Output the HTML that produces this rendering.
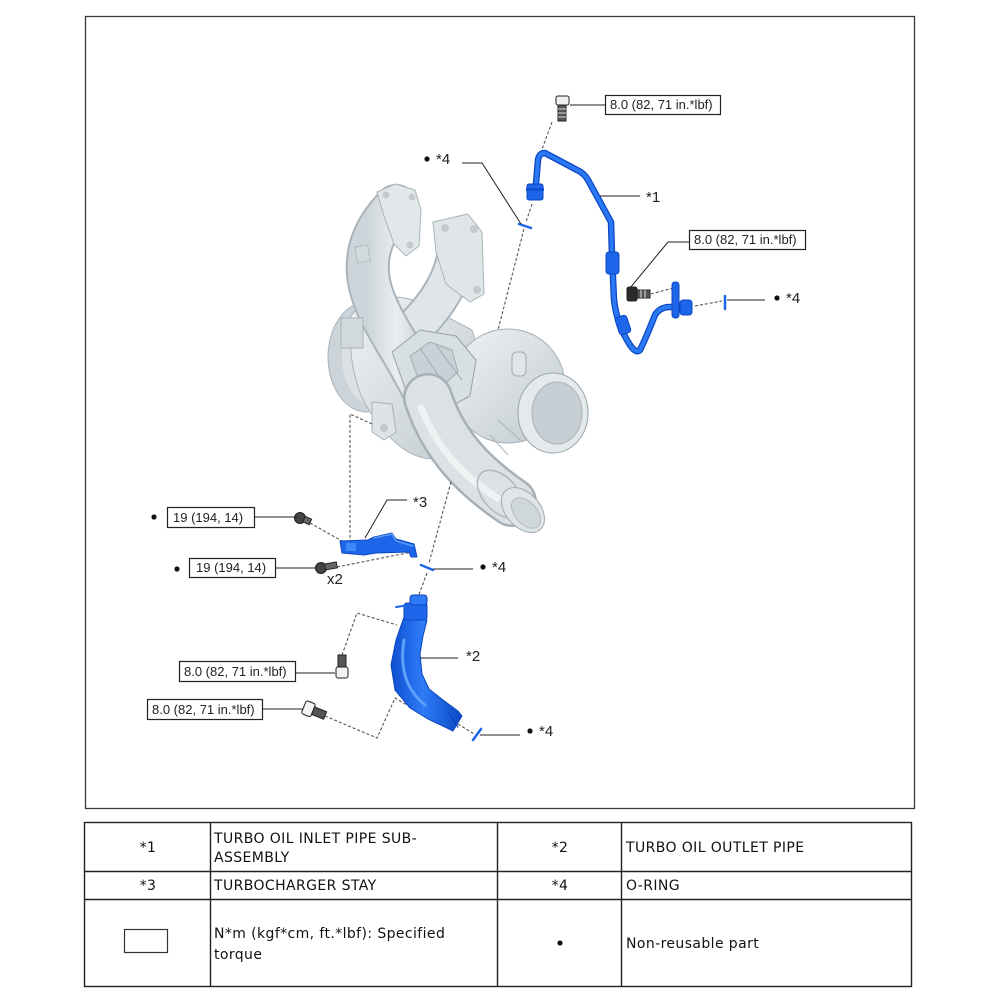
<!DOCTYPE html>
<html><head><meta charset="utf-8"><style>
html,body{margin:0;padding:0;background:#fff;}
svg{display:block;}
.lb{font-family:"Liberation Sans",Arial,sans-serif;font-size:13px;fill:#222;}
.st{font-family:"Liberation Sans",Arial,sans-serif;font-size:15px;fill:#222;}
.tb{font-family:"DejaVu Sans",Verdana,sans-serif;font-size:14px;fill:#111;letter-spacing:0.4px;}
</style></head><body>
<svg width="1002" height="1002" viewBox="0 0 1002 1002" xmlns="http://www.w3.org/2000/svg">
<defs>
<linearGradient id="g1" x1="0" y1="0" x2="1" y2="1"><stop offset="0" stop-color="#eef2f4"/><stop offset="1" stop-color="#c1cacf"/></linearGradient>
<linearGradient id="g2" x1="0" y1="0" x2="1" y2="0"><stop offset="0" stop-color="#cdd5da"/><stop offset="0.5" stop-color="#eaeef0"/><stop offset="1" stop-color="#c6ced3"/></linearGradient>
<linearGradient id="gb" x1="0" y1="0" x2="1" y2="0"><stop offset="0" stop-color="#0e4fd0"/><stop offset="0.45" stop-color="#2f7cf7"/><stop offset="1" stop-color="#0b48c4"/></linearGradient>
</defs>
<rect width="1002" height="1002" fill="#fff"/>
<rect x="85.5" y="16.5" width="829" height="792" fill="none" stroke="#3a3a3a" stroke-width="1.3"/>

<!-- ===== TURBOCHARGER (gray) ===== -->
<g stroke-linejoin="round">
<ellipse cx="367" cy="357" rx="39" ry="55" fill="#ccd4d9" stroke="#aab4ba"/>
<ellipse cx="373" cy="357" rx="31" ry="48" fill="#dbe1e5"/>
<path d="M350,318 C360,298 398,290 422,304 L472,330 C484,362 474,420 452,450 C432,470 400,452 384,430 C364,408 348,380 350,318 Z" fill="url(#g1)" stroke="#aab4ba"/>
<circle cx="508" cy="386" r="57" fill="url(#g1)" stroke="#a6b0b6"/>
<!-- right runner -->
<path d="M458,245 C455,276 440,302 414,328" stroke="#a9b3b9" stroke-width="40" fill="none" stroke-linecap="round"/>
<path d="M458,245 C455,276 440,302 414,328" stroke="#dfe5e8" stroke-width="36" fill="none" stroke-linecap="round"/>
<polygon points="433,222 468,214 482,232 484,294 470,302 446,284 436,252" fill="#e0e5e8" stroke="#a9b3b9"/>
<circle cx="445" cy="228" r="4" fill="#c3cbd0"/><circle cx="474" cy="229" r="4" fill="#c3cbd0"/><circle cx="477" cy="290" r="4" fill="#c3cbd0"/>
<!-- left runner -->
<path d="M396,206 C376,226 362,252 370,286 C378,320 404,350 426,396" stroke="#a9b3b9" stroke-width="44" fill="none" stroke-linecap="round"/>
<path d="M396,206 C376,226 362,252 370,286 C378,320 404,350 426,396" stroke="url(#g2)" stroke-width="40" fill="none" stroke-linecap="round"/>
<polygon points="377,192 395,184 415,190 421,210 419,246 406,256 394,244 384,216" fill="#e2e7ea" stroke="#a9b3b9"/>
<circle cx="386" cy="195" r="3.5" fill="#c3cbd0"/><circle cx="412" cy="197" r="3.5" fill="#c3cbd0"/><circle cx="410" cy="245" r="3.5" fill="#c3cbd0"/>
<rect x="356" y="246" width="13" height="16" fill="#d3dade" stroke="#b3bcc1" transform="rotate(-10 362 254)"/>
<!-- left housing details -->
<rect x="341" y="318" width="22" height="30" fill="#d2d9dd" stroke="#aab4ba"/>
<path d="M372,402 L392,404 L396,432 L384,440 L372,432 Z" fill="#dde3e7" stroke="#a9b3b9"/>
<circle cx="384" cy="428" r="4" fill="#bfc8cd"/>
<!-- actuator -->
<polygon points="392,352 420,330 456,336 476,360 470,396 444,410 408,396" fill="#d8dfe3" stroke="#97a2a8"/>
<polygon points="410,356 430,342 452,350 458,372 440,388 418,378" fill="#c9d1d6" stroke="#a0aab0"/>
<line x1="420" y1="348" x2="448" y2="390" stroke="#a0aab0"/>
<line x1="436" y1="345" x2="462" y2="380" stroke="#a0aab0"/>
<rect x="512" y="352" width="14" height="24" rx="5" fill="#dfe5e8" stroke="#a2acb2"/>
<!-- downpipe -->
<path d="M428,398 C444,446 474,476 512,502" stroke="#a6b0b6" stroke-width="50" fill="none" stroke-linecap="round"/>
<path d="M428,398 C444,446 474,476 512,502" stroke="#dbe1e4" stroke-width="45" fill="none" stroke-linecap="round"/>
<path d="M420,405 C438,452 466,478 500,500" stroke="#eef2f3" stroke-width="7" fill="none"/>
<ellipse cx="500" cy="494" rx="17" ry="28" transform="rotate(-42 500 494)" fill="none" stroke="#aeb8be" stroke-width="1.5"/>
<ellipse cx="523" cy="510" rx="17" ry="26" transform="rotate(-42 523 510)" fill="#dfe5e8" stroke="#a2acb2"/>
<ellipse cx="526" cy="513" rx="11" ry="18" transform="rotate(-42 526 513)" fill="#d0d7db" stroke="#b4bdc2"/>
<!-- outlet -->
<ellipse cx="553" cy="413" rx="35" ry="40" fill="#e4e9eb" stroke="#99a4aa"/>
<ellipse cx="557" cy="413" rx="25" ry="31" fill="#c7cfd4" stroke="#a9b3b9"/>
<path d="M498,420 L520,440 M490,435 L508,455" stroke="#aab4ba" fill="none"/>
</g>

<!-- ===== DASHED LINES ===== -->
<g stroke="#555" stroke-width="1.1" stroke-dasharray="3,2" fill="none">
<path d="M552,122 L541,152"/>
<path d="M532,204 L526,222"/>
<path d="M524,229 L498,330"/>
<path d="M451,482 L429,563"/>
<path d="M427,573 L418,597"/>
<path d="M651,294 L677,287"/>
<path d="M695,306 L722,301"/>
<path d="M372,424 L350,414 L350,550"/>
<path d="M310,523 L342,541"/>
<path d="M337,567 L412,552"/>
<path d="M342,655 L357,613 L397,625"/>
<path d="M325,716 L377,738 L395,698 L407,705"/>
<path d="M458,724 L474,734"/>
</g>

<!-- ===== BLUE PARTS ===== -->
<g stroke-linejoin="round" stroke-linecap="round">
<!-- pipe *1 -->
<path d="M535,195 L538,160 Q539,153 545,153 L577,170 Q584,173 588,180 L611,222 L612,255 L614,300 Q617,325 630,345 Q636,354 640,350 Q646,338 655,315 Q660,307 670,307 L683,307" fill="none" stroke="#0c47c2" stroke-width="6.5"/>
<path d="M535,195 L538,160 Q539,153 545,153 L577,170 Q584,173 588,180 L611,222 L612,255 L614,300 Q617,325 630,345 Q636,354 640,350 Q646,338 655,315 Q660,307 670,307 L683,307" fill="none" stroke="#2b78f5" stroke-width="4"/>
<rect x="527" y="184" width="16" height="16" rx="2" fill="#1d66ea" stroke="#0c47c2"/>
<rect x="526" y="188" width="18" height="3" fill="#0f52d6"/>
<rect x="606" y="252" width="13" height="22" rx="3" fill="#1d66ea" stroke="#0c47c2"/>
<rect x="617" y="316" width="12" height="18" rx="3" fill="#1d66ea" stroke="#0c47c2" transform="rotate(-18 623 325)"/>
<rect x="672" y="282" width="7" height="36" rx="3" fill="#1d66ea" stroke="#0c47c2"/>
<rect x="680" y="300" width="12" height="15" rx="3" fill="#1d66ea" stroke="#0c47c2"/>
<!-- O-rings -->
<line x1="519" y1="224" x2="531" y2="228" stroke="#1d66ea" stroke-width="2.5"/>
<line x1="725" y1="296" x2="725" y2="309" stroke="#1d66ea" stroke-width="2.5"/>
<line x1="421" y1="565" x2="433" y2="570" stroke="#1d66ea" stroke-width="2.5"/>
<line x1="473" y1="740" x2="481" y2="729" stroke="#1d66ea" stroke-width="2.5"/>
<!-- stay *3 -->
<polygon points="340,541 368,540 374,537 392,533 396,539 414,544 417,557 411,557 409,552 376,553 364,555 342,553" fill="#1d66ea" stroke="#0c47c2"/>
<path d="M374,538 L392,534 L396,541 L413,546" fill="none" stroke="#5a9af8" stroke-width="1.5"/>
<rect x="346" y="543" width="10" height="8" fill="#3d87f7"/>
<!-- pipe *2 -->
<path d="M404,617 L396,640 L391,665 L395,690 L410,708 L428,719 L447,728 L453,731 L462,716 L458,711 L443,700 L429,689 L422,674 L420,654 L423,636 L427,620 Z" fill="url(#gb)" stroke="#0b45be"/>
<rect x="404" y="603" width="23" height="17" rx="3" fill="#1d66ea" stroke="#0b45be"/>
<rect x="410" y="595" width="17" height="10" rx="3" fill="#2e79f6" stroke="#0b45be"/>
<line x1="396" y1="607" x2="410" y2="605" stroke="#1d66ea" stroke-width="2"/>
<path d="M449,713 L458,727" stroke="#0b45be" stroke-width="1.2"/>
<path d="M404,640 C400,665 404,688 425,705" fill="none" stroke="#5ea0fa" stroke-width="3"/>
</g>

<!-- ===== BOLTS ===== -->
<g stroke="#222" stroke-width="1">
<rect x="556" y="96" width="13" height="9" rx="2" fill="#f2f2f2"/>
<rect x="558" y="105" width="8" height="16" fill="#555"/>
<path d="M558,109 H566 M558,113 H566 M558,117 H566" stroke="#ddd" stroke-width="1"/>

<rect x="627" y="287" width="10" height="14" rx="2" fill="#2a2a2a"/>
<rect x="637" y="290" width="13" height="8" fill="#555"/>
<path d="M641,290 V298 M645,290 V298" stroke="#ddd"/>

<circle cx="300" cy="518" r="5.5" fill="#444"/>
<rect x="304" y="516" width="7" height="6" fill="#666" transform="rotate(25 304 519)"/>

<circle cx="321" cy="568" r="5.5" fill="#444"/>
<rect x="325" y="564" width="12" height="6" fill="#666" transform="rotate(-10 325 567)"/>

<rect x="338" y="655" width="8" height="13" fill="#555"/>
<rect x="336" y="667" width="12" height="11" rx="2" fill="#f2f2f2"/>

<g transform="rotate(22 314 711)">
<rect x="303" y="704" width="10" height="14" rx="2" fill="#f2f2f2"/>
<rect x="313" y="707" width="13" height="8" fill="#555"/>
</g>
</g>

<!-- ===== LEADERS ===== -->
<g stroke="#222" stroke-width="1" fill="none">
<path d="M570,105 H605"/>
<path d="M600,196 H640"/>
<path d="M521,224 L482,163 H462"/>
<path d="M630,288 L668,242 H689"/>
<path d="M727,300 H765"/>
<path d="M254,517 H297"/>
<path d="M275,568 H317"/>
<path d="M365,538 L387,500 H407"/>
<path d="M433,569 H473"/>
<path d="M420,658 H458"/>
<path d="M295,673 H335"/>
<path d="M262,709 H303"/>
<path d="M480,735 H520"/>
</g>

<!-- ===== LABEL BOXES ===== -->
<g fill="#fff" stroke="#222" stroke-width="1.2">
<rect x="605.5" y="95.5" width="115" height="19"/>
<rect x="689.5" y="230.5" width="116" height="19"/>
<rect x="167.5" y="507.5" width="87" height="20"/>
<rect x="189.5" y="558.5" width="86" height="19"/>
<rect x="179.5" y="661.5" width="116" height="20"/>
<rect x="147.5" y="699.5" width="115" height="20"/>
</g>
<text class="lb" x="610" y="109">8.0 (82, 71 in.*lbf)</text>
<text class="lb" x="694" y="244">8.0 (82, 71 in.*lbf)</text>
<text class="lb" x="173" y="522">19 (194, 14)</text>
<text class="lb" x="196" y="572">19 (194, 14)</text>
<text class="lb" x="184" y="676">8.0 (82, 71 in.*lbf)</text>
<text class="lb" x="152" y="714">8.0 (82, 71 in.*lbf)</text>

<g fill="#111">
<circle cx="427" cy="159" r="2.6"/>
<circle cx="777" cy="298" r="2.6"/>
<circle cx="154" cy="517" r="2.6"/>
<circle cx="177" cy="569" r="2.6"/>
<circle cx="483" cy="567" r="2.6"/>
<circle cx="530" cy="731" r="2.6"/>
</g>
<text class="st" x="436" y="164">*4</text>
<text class="st" x="786" y="303">*4</text>
<text class="st" x="492" y="572">*4</text>
<text class="st" x="539" y="736">*4</text>
<text class="st" x="646" y="202">*1</text>
<text class="st" x="413" y="507">*3</text>
<text class="st" x="466" y="661">*2</text>
<text class="st" x="327" y="584">x2</text>

<!-- ===== TABLE ===== -->
<g stroke="#222" stroke-width="1.4" fill="none">
<rect x="84.5" y="822.5" width="827" height="164"/>
<path d="M84.5,871.5 H911.5 M84.5,899.5 H911.5"/>
<path d="M210.5,822.5 V986.5 M497.5,822.5 V986.5 M621.5,822.5 V986.5"/>
</g>
<text class="tb" x="148" y="852" text-anchor="middle">*1</text>
<text class="tb" x="214" y="843">TURBO OIL INLET PIPE SUB-</text>
<text class="tb" x="214" y="862">ASSEMBLY</text>
<text class="tb" x="560" y="852" text-anchor="middle">*2</text>
<text class="tb" x="626" y="852">TURBO OIL OUTLET PIPE</text>
<text class="tb" x="148" y="890" text-anchor="middle">*3</text>
<text class="tb" x="214" y="890">TURBOCHARGER STAY</text>
<text class="tb" x="560" y="890" text-anchor="middle">*4</text>
<text class="tb" x="626" y="890">O-RING</text>
<rect x="124.5" y="929.5" width="43" height="23" fill="none" stroke="#333" stroke-width="1.2"/>
<text class="tb" x="214" y="938">N*m (kgf*cm, ft.*lbf): Specified</text>
<text class="tb" x="214" y="959">torque</text>
<circle cx="560" cy="943" r="2.6" fill="#111"/>
<text class="tb" x="626" y="948">Non-reusable part</text>
</svg>
</body></html>
